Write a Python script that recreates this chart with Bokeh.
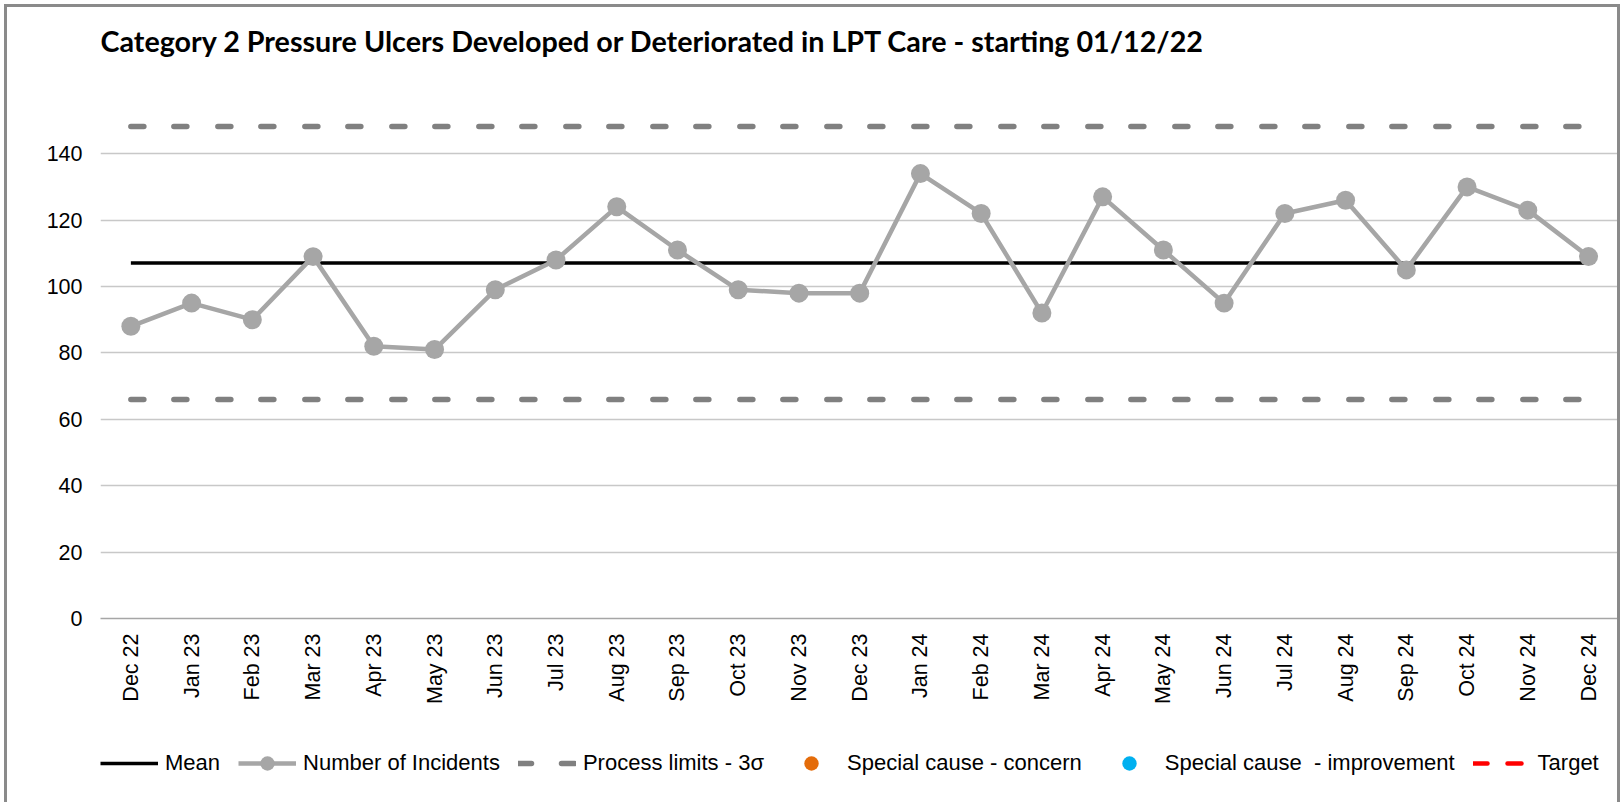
import math
import numpy as np
from bokeh.plotting import figure
from bokeh.layouts import column
from bokeh.models import Range1d, FixedTicker, Legend, LegendItem, Label
from bokeh.embed import file_html
from bokeh.resources import INLINE

# ---- data ----
months = ["Dec 22", "Jan 23", "Feb 23", "Mar 23", "Apr 23", "May 23", "Jun 23",
          "Jul 23", "Aug 23", "Sep 23", "Oct 23", "Nov 23", "Dec 23", "Jan 24",
          "Feb 24", "Mar 24", "Apr 24", "May 24", "Jun 24", "Jul 24", "Aug 24",
          "Sep 24", "Oct 24", "Nov 24", "Dec 24"]
incidents = [88, 95, 90, 109, 82, 81, 99, 108, 124, 111, 99, 98, 98,
             134, 122, 92, 127, 111, 95, 122, 126, 105, 130, 123, 109]
mean_value = 107.1
upper_limit = 148.2
lower_limit = 66.0
y_ticks = [0, 20, 40, 60, 80, 100, 120, 140]
title_text = "Category 2 Pressure Ulcers Developed or Deteriorated in LPT Care - starting 01/12/22"
legend_labels = ["Mean", "Number of Incidents", "Process limits - 3σ",
                 "Special cause - concern", "Special cause  - improvement", "Target"]

n = len(months)
xs = list(range(n))
mean_series = [mean_value] * n
ucl_series = [upper_limit] * n
lcl_series = [lower_limit] * n
# no special-cause points and no target in this period
special_concern = np.full(n, np.nan)
special_improvement = np.full(n, np.nan)
target_series = np.full(n, np.nan)

FONT = "Liberation Sans"
W = 1610

# styles
MEAN = dict(line_color="black", line_width=3.5)
LIMIT = dict(line_color="#808080", line_width=5.5, line_dash="13 30 13 31", line_cap="round")
INC_LINE = dict(line_color="#a6a6a6", line_width=4.5)
INC_PTS = dict(fill_color="#a6a6a6", line_color=None)
CONCERN = dict(fill_color="#e46c0a", line_color=None)
IMPROVE = dict(fill_color="#00b0f0", line_color=None)
TARGET = dict(line_color="#ff0000", line_width=4.5, line_dash="14 20", line_cap="round")

# ---------- title strip ----------
t = figure(width=W, height=113, output_backend="svg", toolbar_location=None,
           x_range=Range1d(0, 1), y_range=Range1d(0, 1),
           x_axis_location=None, y_axis_location=None,
           min_border_left=93, min_border_right=0, min_border_top=0, min_border_bottom=0)
t.outline_line_color = None
t.grid.visible = False
t.add_layout(Label(x=0, y=80, x_units="screen", y_units="screen", text=title_text,
                   text_font="Lato", text_font_style="bold", text_font_size="28.7px",
                   text_color="black", text_baseline="alphabetic"))

# ---------- main chart ----------
p = figure(width=W, height=590, output_backend="svg", toolbar_location=None,
           x_range=Range1d(-0.5, 24.477), y_range=Range1d(0, 150),
           min_border_left=93, min_border_right=0, min_border_top=0,
           min_border_bottom=92)
p.outline_line_color = None

p.xaxis.ticker = FixedTicker(ticks=xs)
p.xaxis.major_label_overrides = {i: m for i, m in zip(xs, months)}
p.xaxis.major_label_orientation = math.pi / 2
p.xaxis.major_tick_line_color = None
p.xaxis.major_tick_out = 0
p.xaxis.major_tick_in = 0
p.xaxis.minor_tick_line_color = None
p.xaxis.minor_tick_out = 0
p.xaxis.axis_line_color = "#a6a6a6"
p.xaxis.axis_line_width = 1.5
p.xaxis.major_label_standoff = 15
p.xaxis.major_label_text_font = FONT
p.xaxis.major_label_text_font_size = "21.5px"
p.xaxis.major_label_text_color = "black"

p.yaxis.ticker = FixedTicker(ticks=y_ticks)
p.yaxis.axis_line_color = None
p.yaxis.major_tick_line_color = None
p.yaxis.major_tick_out = 0
p.yaxis.major_tick_in = 0
p.yaxis.minor_tick_line_color = None
p.yaxis.minor_tick_out = 0
p.yaxis.major_label_standoff = 18
p.yaxis.major_label_text_font = FONT
p.yaxis.major_label_text_font_size = "21.5px"
p.yaxis.major_label_text_color = "black"

p.xgrid.visible = False
p.ygrid.ticker = FixedTicker(ticks=y_ticks)
p.ygrid.grid_line_color = "#c8c8c8"
p.ygrid.grid_line_width = 1.5

p.line(xs, mean_series, **MEAN)
p.line(xs, ucl_series, **LIMIT)
p.line(xs, lcl_series, **LIMIT)
p.line(xs, incidents, **INC_LINE)
p.scatter(xs, incidents, size=19, **INC_PTS)
p.scatter(xs, special_concern, size=13, **CONCERN)
p.scatter(xs, special_improvement, size=13, **IMPROVE)
p.line(xs, target_series, **TARGET)

# ---------- legend strip ----------
lg = figure(width=W, height=92, output_backend="svg", toolbar_location=None,
            x_range=Range1d(0, 1), y_range=Range1d(0, 1),
            x_axis_location=None, y_axis_location=None,
            min_border_left=92, min_border_right=0, min_border_top=35,
            min_border_bottom=0)
lg.outline_line_color = None
lg.grid.visible = False
r_mean = lg.line(xs, target_series, **MEAN)
r_inc_l = lg.line(xs, target_series, **INC_LINE)
r_inc_p = lg.scatter(xs, target_series, size=19, **INC_PTS)
r_lim = lg.line(xs, target_series, **LIMIT)
r_con = lg.scatter(xs, special_concern, size=13, **CONCERN)
r_imp = lg.scatter(xs, special_improvement, size=13, **IMPROVE)
r_tgt = lg.line(xs, target_series, **TARGET)

legend = Legend(items=[
    LegendItem(label=legend_labels[0], renderers=[r_mean]),
    LegendItem(label=legend_labels[1], renderers=[r_inc_l, r_inc_p]),
    LegendItem(label=legend_labels[2], renderers=[r_lim]),
    LegendItem(label=legend_labels[3], renderers=[r_con]),
    LegendItem(label=legend_labels[4], renderers=[r_imp]),
    LegendItem(label=legend_labels[5], renderers=[r_tgt]),
], orientation="horizontal", location="top_left", glyph_width=58, glyph_height=36,
    label_standoff=7, spacing=18, padding=0, margin=0,
    border_line_color=None, background_fill_alpha=0,
    label_text_font=FONT, label_text_font_size="22px", label_text_color="black")
lg.add_layout(legend)

layout = column(t, p, lg, spacing=0)
layout.styles = {"margin-left": "4px", "margin-top": "4px",
                 "border-left": "3px solid #8a8a8a",
                 "border-top": "3px solid #8a8a8a",
                 "border-right": "3px solid #8a8a8a"}

open("out.html", "w").write(file_html(layout, INLINE))
